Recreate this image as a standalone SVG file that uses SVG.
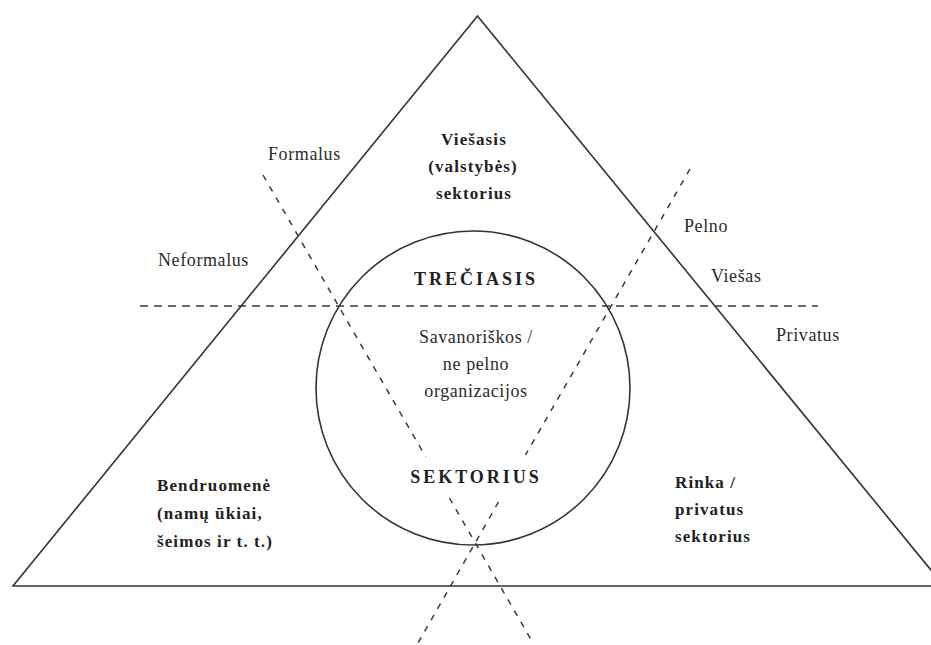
<svg xmlns="http://www.w3.org/2000/svg" width="931" height="645" viewBox="0 0 931 645">
<style>
.bg{fill:#ffffff}
.shape{fill:none;stroke:#333333;stroke-width:1.6}
.dash{fill:none;stroke:#3a3a3a;stroke-width:1.5;stroke-dasharray:6 7}
.hdash{fill:none;stroke:#3a3a3a;stroke-width:1.5;stroke-dasharray:8 6}
.reg{font-family:"Liberation Serif","Times New Roman",serif;font-size:18px;fill:#2b2b2b;letter-spacing:0.6px}
.bold{font-family:"Liberation Serif","Times New Roman",serif;font-size:17px;font-weight:bold;fill:#222222;letter-spacing:1.1px}
.caps{font-family:"Liberation Serif","Times New Roman",serif;font-size:18px;font-weight:bold;fill:#222222;letter-spacing:3px}
.mid{text-anchor:middle}
</style>
<rect class="bg" x="0" y="0" width="931" height="645"/>
<g id="triangle">
<polygon class="shape" points="477.5,16 13,586 944,586"/>
</g>
<g id="circle">
<circle class="shape" cx="473" cy="388" r="157"/>
</g>
<g id="connectors">
<line class="hdash" x1="140" y1="306" x2="818" y2="306"/>
<line class="dash" x1="263" y1="175" x2="425.7" y2="457"/>
<line class="dash" x1="449.4" y1="498" x2="533" y2="643"/>
<line class="dash" x1="690" y1="169" x2="525.5" y2="455"/>
<line class="dash" x1="498.5" y1="502" x2="418" y2="643"/>
</g>
<g id="public-sector">
<text class="bold mid" x="474" y="145">Viešasis</text>
<text class="bold mid" x="473" y="172">(valstybės)</text>
<text class="bold mid" x="474" y="199">sektorius</text>
</g>
<g id="third-sector">
<text class="caps mid" x="476" y="285">TREČIASIS</text>
<text class="reg mid" x="476" y="343">Savanoriškos /</text>
<text class="reg mid" x="476" y="370">ne pelno</text>
<text class="reg mid" x="476" y="397">organizacijos</text>
<text class="caps mid" x="476" y="483">SEKTORIUS</text>
</g>
<g id="community">
<text class="bold" x="157" y="491">Bendruomenė</text>
<text class="bold" x="157" y="519">(namų ūkiai,</text>
<text class="bold" x="157" y="547">šeimos ir t. t.)</text>
</g>
<g id="market">
<text class="bold" x="675" y="488">Rinka /</text>
<text class="bold" x="675" y="515">privatus</text>
<text class="bold" x="675" y="542">sektorius</text>
</g>
<g id="axis-labels">
<text class="reg" x="268" y="160">Formalus</text>
<text class="reg" x="158" y="266">Neformalus</text>
<text class="reg" x="684" y="232">Pelno</text>
<text class="reg" x="711" y="282">Viešas</text>
<text class="reg" x="776" y="341">Privatus</text>
</g>
</svg>
